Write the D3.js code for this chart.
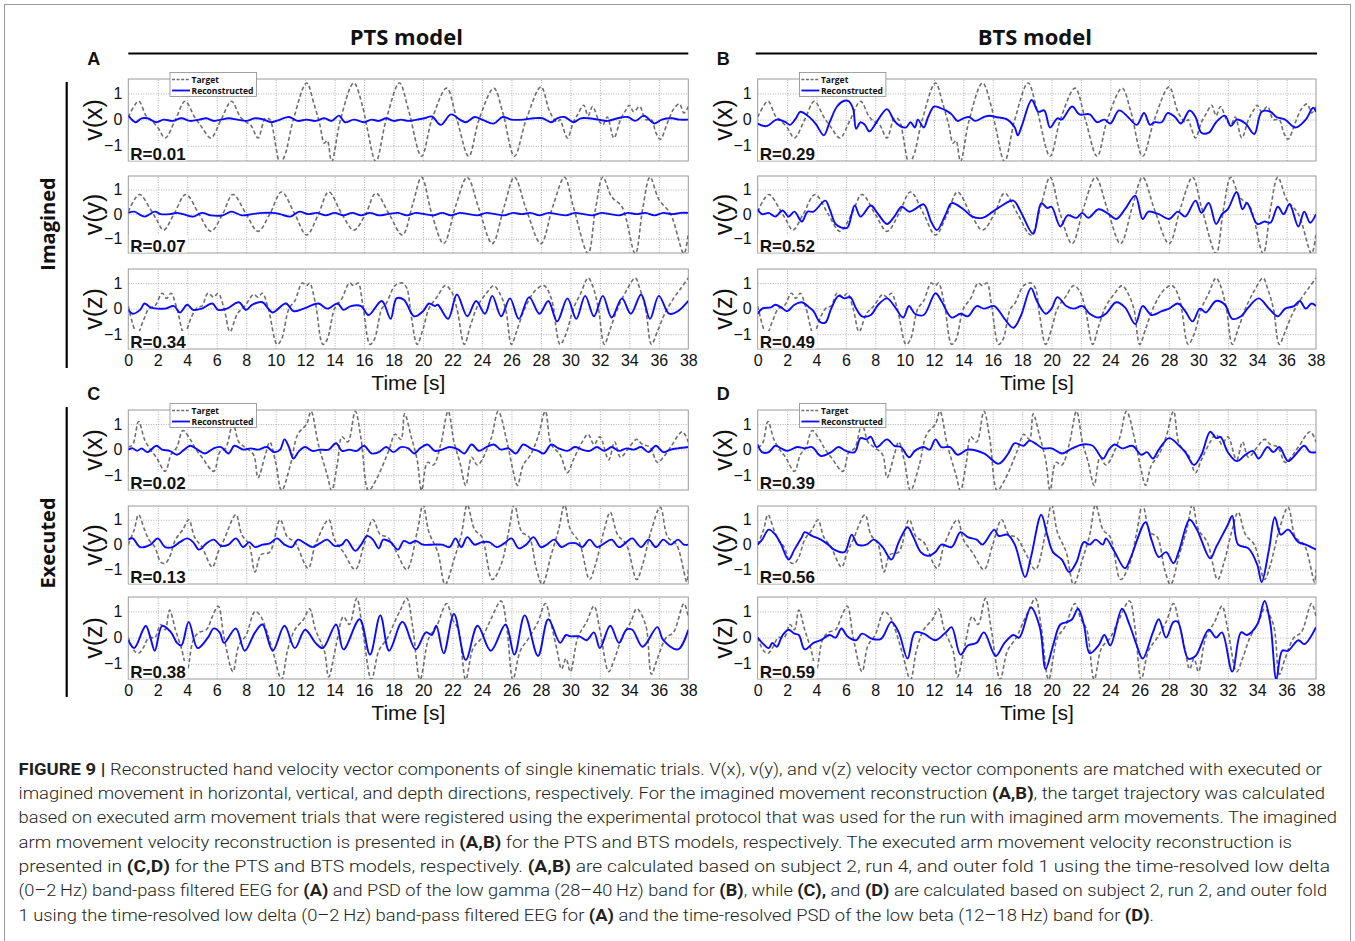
<!DOCTYPE html>
<html><head><meta charset="utf-8">
<script src="https://cdn.jsdelivr.net/npm/d3@7"></script>
<style>body{margin:0;background:#fff}svg{display:block}</style>
</head><body><svg id="c" width="1355" height="941"></svg>
<script>
// ---------- DATA ----------
const xTicks = [0,2,4,6,8,10,12,14,16,18,20,22,24,26,28,30,32,34,36,38];
const yTicks = [-1,0,1];
const axisLabels = ['v(x)','v(y)','v(z)'];
const modelTitles = ['PTS model','BTS model'];
const panelLetters = ['A','B','C','D'];
const groupLabels = ['Imagined','Executed'];
const legendLabels = ['Target','Reconstructed'];
const rA = ['R=0.01','R=0.07','R=0.34'];
const rB = ['R=0.29','R=0.52','R=0.49'];
const rC = ['R=0.02','R=0.13','R=0.38'];
const rD = ['R=0.39','R=0.56','R=0.59'];

// target trajectories [time s, velocity]
const tgtImX = [[0,0.1],[0.7,0.7],[1.2,0.15],[1.5,0],[2.0,-0.3],[2.5,-0.7],[3.2,0],[3.85,0.7],[4.5,0.1],[5.0,-0.3],[5.6,-0.7],[6.3,0],[7.0,0.7],[7.6,0.1],[8.0,-0.1],[8.3,-0.2],[8.8,-0.7],[9.3,0.05],[9.6,0],[10.3,-1.65],[10.6,-1.4],[11.2,0],[12.1,1.4],[12.6,0.6],[13.0,-0.2],[13.3,-0.9],[13.5,-0.8],[13.8,-1.6],[14.4,0],[15.3,1.4],[15.9,0.5],[16.2,-0.3],[16.8,-1.6],[17.5,0],[18.4,1.4],[19.0,0.4],[19.9,-1.4],[20.6,0],[21.6,1.2],[22.3,0],[23.1,-1.4],[23.8,0],[24.8,1.2],[25.4,0.3],[26.2,-1.4],[27.0,0],[28.0,1.25],[28.6,0.3],[29.1,-0.1],[29.3,0.0],[29.5,-0.3],[29.8,-0.7],[30.2,-0.1],[30.5,0.2],[30.9,0.55],[31.2,0.15],[31.5,0.5],[31.9,0],[32.2,-0.2],[32.5,0.1],[32.95,-0.7],[33.4,0],[33.8,0.4],[34.0,0.55],[34.3,0.3],[34.7,0.5],[35.1,0],[35.5,0],[35.8,-0.5],[36.1,-0.75],[36.6,-0.1],[37.0,0.4],[37.4,0.6],[37.7,0.25],[38,0.5]];
const tgtImY = [[0,0.1],[0.75,0.8],[1.5,0.2],[1.9,-0.2],[2.4,-0.65],[3.1,0],[3.9,0.8],[4.8,0],[5.6,-0.7],[6.4,0],[7.1,0.8],[8.0,0],[8.8,-0.7],[9.6,0],[10.4,0.9],[11.3,0],[12.1,-0.85],[12.9,0],[13.6,0.9],[14.5,0],[15.3,-0.65],[16.1,0],[16.8,0.85],[17.7,0],[18.6,-0.85],[19.3,0.4],[19.9,1.5],[20.6,0],[21.4,-1.2],[22.2,0.3],[23.0,1.5],[23.8,0.2],[24.7,-1.2],[25.5,0.3],[26.2,1.5],[27.0,0.2],[28.0,-1.2],[28.8,0.3],[29.6,1.5],[30.2,0.3],[31.2,-1.6],[31.7,0.2],[32.2,1.5],[32.8,0.7],[33.5,0.3],[34.4,-1.6],[34.9,0.2],[35.4,1.5],[36.0,0.6],[36.8,0],[37.7,-1.6],[38,-0.8]];
const tgtImZ = [[0,0.1],[0.6,-1.0],[1.0,-0.5],[1.4,0],[1.8,0.1],[2.3,0.6],[2.6,0.4],[2.9,0.6],[3.3,0],[3.8,-1.0],[4.3,-0.3],[4.7,0.05],[5.0,0.1],[5.4,0.6],[5.8,0.45],[6.1,0.6],[6.5,0],[6.9,-0.9],[7.4,-0.2],[7.9,0.1],[8.5,0.55],[8.8,0.45],[9.1,0.6],[9.5,0],[10.1,-1.4],[10.4,-1.2],[10.9,0],[11.3,0.3],[11.8,1.0],[12.1,0.9],[12.3,1.0],[12.7,0.2],[13.2,-1.4],[13.5,-1.2],[14.0,0],[14.5,0.4],[15.0,1.0],[15.3,0.9],[15.6,1.0],[15.9,0.2],[16.4,-1.4],[16.7,-1.2],[17.2,0],[17.5,0.2],[18.1,0.9],[18.6,1.0],[18.9,0.8],[19.2,-0.3],[19.6,-1.4],[20.0,-0.8],[20.4,0],[21.0,0.5],[21.5,0.9],[21.9,0.7],[22.3,0],[22.8,-1.4],[23.2,-0.7],[23.7,0.1],[24.3,0.6],[24.8,0.9],[25.2,0.6],[25.6,0],[26.0,-1.4],[26.4,-0.8],[26.9,0],[27.6,0.7],[28.2,0.9],[28.7,0.4],[29.3,-1.4],[29.7,-1.0],[30.2,0],[30.7,0.6],[31.2,1.2],[31.5,0.9],[31.9,0],[32.3,-1.4],[32.7,-0.8],[33.2,0],[33.8,0.7],[34.4,1.2],[34.7,0.8],[35.1,0],[35.5,-1.4],[35.9,-0.9],[36.4,-0.2],[37.0,0.4],[37.5,0.8],[38,1.2]];
const tgtExX = [[0,0.1],[0.3,0.2],[0.7,1.1],[1.1,0.4],[1.5,0.0],[1.9,-0.3],[2.5,-0.85],[2.9,-0.2],[3.3,0.1],[3.7,0.75],[4.2,0.4],[4.6,0.0],[5.0,-0.3],[5.8,-0.85],[6.2,-0.1],[6.6,0.05],[7.1,1.0],[7.5,0.3],[7.9,0.1],[8.5,-0.2],[8.8,-1.1],[9.3,-0.2],[9.6,0.3],[10.0,-0.5],[10.4,-1.6],[11.0,-0.6],[11.5,0.6],[12.1,1.0],[12.4,1.5],[12.9,0.2],[13.5,-1.0],[13.8,-1.6],[14.2,-0.5],[14.5,0.5],[14.9,0.3],[15.4,1.5],[15.8,0.4],[16.3,-1.6],[16.8,-1.2],[17.7,0.0],[18.1,0.6],[18.5,0.4],[18.75,1.4],[19.2,0.5],[19.6,-0.4],[19.9,-1.6],[20.3,-0.5],[20.7,-0.6],[21.2,0.2],[21.7,1.5],[22.1,0.3],[22.5,-0.5],[22.9,-1.4],[23.3,-0.3],[23.7,-0.6],[24.6,0.4],[25.1,1.5],[25.7,0.3],[26.1,-0.8],[26.4,-1.4],[26.8,-0.6],[27.3,-0.2],[27.8,0.5],[28.3,1.5],[28.7,0.2],[29.3,-0.2],[29.8,-0.9],[30.2,-0.4],[30.8,0.3],[31.2,0.6],[31.6,0.2],[32.0,0.5],[32.6,-0.4],[33.0,0.3],[33.4,-0.3],[34.0,0.1],[34.5,0.4],[34.9,0.2],[35.4,0.1],[35.9,-0.5],[36.3,-0.3],[36.8,0.1],[37.6,0.7],[38,0.3]];
const tgtExY = [[0,0.0],[0.4,0.6],[0.7,1.2],[1.1,0.6],[1.4,0.2],[1.8,-0.1],[2.2,-0.7],[2.5,-0.75],[2.8,-0.5],[3.2,0.2],[3.7,0.6],[4.1,1.0],[4.5,0.3],[5.0,-0.1],[5.7,-0.9],[6.1,-0.3],[6.5,0.2],[7.3,1.2],[7.7,0.4],[8.2,0.0],[8.6,-1.1],[9.0,-0.4],[9.6,-0.3],[10.3,1.0],[10.8,0.3],[11.3,0.1],[12.2,-0.95],[12.7,0.0],[13.6,1.0],[14.0,0.2],[14.6,-0.3],[15.4,-1.0],[16.0,0.0],[16.6,1.0],[17.1,0.4],[17.6,0.3],[18.2,-0.3],[18.9,-1.0],[19.6,0.5],[20.0,1.6],[20.4,0.5],[21.0,-0.3],[21.5,-1.6],[22.1,-0.6],[22.6,0.4],[23.0,1.6],[23.5,0.6],[24.0,0.3],[24.7,-1.4],[25.3,-0.8],[25.8,0.5],[26.2,1.6],[26.7,0.5],[27.2,0.3],[27.7,-1.0],[28.1,-1.6],[28.7,-0.4],[29.2,0.6],[29.6,1.6],[30.0,0.6],[30.6,0.1],[31.3,-1.4],[31.7,-0.8],[32.3,0.6],[32.7,1.3],[33.2,0.4],[33.8,0.0],[34.5,-1.4],[34.9,-0.8],[35.5,0.6],[36.1,1.5],[36.6,0.3],[37.2,0.0],[37.9,-1.5],[38,-1.0]];
const tgtExZ = [[0,0.0],[0.4,-0.5],[0.7,-0.6],[1.0,-0.4],[1.4,0.0],[1.8,0.0],[2.2,0.5],[2.5,0.3],[2.8,1.05],[3.2,0.3],[3.6,-0.4],[4.0,-1.2],[4.4,-0.1],[4.8,0.2],[5.3,0.3],[5.7,0.8],[6.1,1.2],[6.5,0.0],[7.1,-1.3],[7.5,-0.3],[8.0,0.1],[8.6,1.0],[9.0,0.8],[9.3,0.4],[9.8,-0.5],[10.4,-1.6],[10.8,-0.5],[11.3,0.3],[11.9,0.7],[12.3,1.1],[12.7,0.3],[13.3,-0.5],[13.6,-1.5],[14.1,-0.3],[14.6,0.8],[15.0,0.5],[15.5,1.5],[15.9,0.3],[16.5,-1.6],[17.0,-0.5],[17.6,0.0],[18.0,0.5],[18.5,1.1],[18.9,1.5],[19.3,0.4],[19.8,-1.6],[20.4,0.0],[20.9,0.4],[21.6,1.3],[22.0,0.7],[22.4,0.3],[22.9,-1.6],[23.4,-0.4],[24.0,0.0],[24.6,0.7],[25.3,1.4],[25.7,0.3],[26.1,-1.6],[26.6,-0.5],[27.2,0.0],[27.8,0.6],[28.3,1.3],[28.7,0.5],[29.1,-0.5],[29.4,-1.2],[29.7,-0.8],[30.0,-1.3],[30.5,0.0],[31.1,0.6],[31.6,1.2],[32.0,0.3],[32.6,-1.3],[33.0,-0.8],[33.5,0.0],[34.1,0.6],[34.5,1.1],[35.1,0.5],[35.5,-1.4],[35.9,-0.8],[36.5,0.0],[37.0,0.2],[37.7,1.3],[38,0.8]];

// reconstructed trajectories
const recAx = [[0,0.15],[0.5,-0.1],[0.9,0.05],[1.3,0.05],[1.9,-0.1],[2.4,0.0],[3.0,-0.05],[3.6,0.05],[4.2,-0.05],[4.8,0.0],[5.3,0.05],[5.8,-0.05],[6.3,0.0],[6.8,0.05],[7.4,0.0],[8.0,-0.05],[8.6,0.05],[9.2,0.0],[9.7,-0.1],[10.3,0.0],[10.9,0.1],[11.5,-0.05],[12.1,0.0],[12.7,-0.05],[13.3,0.05],[13.8,-0.05],[14.3,0.15],[14.7,-0.1],[15.3,0.0],[16.0,-0.1],[16.5,0.0],[17.0,-0.05],[17.5,0.05],[18.0,-0.05],[18.5,0.0],[19.0,-0.05],[19.6,0.0],[20.1,0.05],[20.6,0.12],[21.2,-0.2],[21.9,0.2],[22.5,0.0],[22.9,-0.1],[23.5,0.1],[24.0,0.0],[24.8,-0.15],[25.4,0.1],[26.0,0.0],[26.8,0.0],[27.5,0.05],[28.1,0.05],[28.7,-0.1],[29.1,0.05],[29.6,0.1],[30.2,-0.1],[30.7,0.05],[31.2,0.05],[31.9,0.0],[32.5,-0.05],[33.2,0.05],[33.9,0.1],[34.4,-0.05],[35.0,0.15],[35.7,-0.15],[36.2,0.0],[36.9,0.05],[37.4,0.0],[38,0.0]];
const recAy = [[0,0.05],[0.4,0.1],[1.1,-0.1],[1.8,0.1],[2.2,0.0],[2.8,0.0],[3.3,0.05],[3.7,0.0],[4.4,-0.1],[5.0,0.05],[5.6,-0.05],[6.4,-0.05],[7.0,0.1],[7.7,-0.05],[8.4,0.0],[9.1,0.05],[9.8,0.05],[10.3,0.0],[11.0,-0.1],[11.6,0.1],[12.2,0.0],[12.8,0.05],[13.4,-0.05],[14.0,0.05],[14.6,-0.05],[15.2,0.05],[15.8,-0.05],[16.4,0.05],[17.0,-0.05],[17.6,0.0],[18.3,0.05],[18.9,-0.05],[19.5,0.05],[20.1,0.0],[20.7,-0.05],[21.3,0.05],[21.9,-0.05],[22.5,0.05],[23.1,0.0],[23.7,-0.05],[24.3,0.05],[24.9,0.0],[25.5,-0.05],[26.1,0.05],[26.7,0.0],[27.3,0.05],[27.9,-0.05],[28.5,0.05],[29.1,0.0],[29.7,-0.05],[30.3,0.05],[30.9,0.0],[31.5,-0.05],[32.1,0.05],[32.7,0.0],[33.3,-0.05],[33.9,0.05],[34.5,0.0],[35.1,0.05],[35.7,-0.05],[36.3,0.05],[36.9,0.0],[37.5,0.05],[38,0.05]];
const recAz = [[0,-0.05],[0.3,-0.2],[0.8,-0.05],[1.1,0.2],[1.5,0.05],[2.0,0.0],[2.5,0.0],[3.1,0.1],[3.5,-0.15],[4.0,0.15],[4.4,-0.05],[5.0,0.0],[5.7,0.2],[6.1,-0.05],[6.7,0.0],[7.5,0.25],[8.0,-0.05],[8.4,0.15],[9.1,0.25],[9.5,0.0],[9.8,-0.15],[10.7,0.2],[11.2,-0.1],[11.9,0.0],[12.9,0.2],[13.5,0.0],[14.2,0.2],[14.6,-0.05],[15.1,0.1],[15.8,0.1],[16.3,-0.25],[17.2,0.3],[17.8,-0.4],[18.2,0.4],[18.7,0.35],[19.4,-0.3],[20.0,-0.1],[20.4,0.2],[20.8,0.1],[21.0,0.15],[21.7,-0.4],[22.3,0.55],[23.0,-0.3],[23.6,0.3],[24.2,-0.2],[24.7,0.5],[25.3,-0.3],[25.9,0.4],[26.5,-0.4],[27.2,0.45],[27.9,-0.2],[28.5,0.3],[29.1,-0.5],[29.8,0.4],[30.4,-0.4],[31.0,0.5],[31.6,-0.3],[32.2,0.5],[32.8,-0.35],[33.5,0.4],[34.1,-0.2],[34.8,0.55],[35.4,-0.4],[36.0,0.5],[36.7,-0.2],[37.3,-0.1],[38,0.3]];
const recBx = [[0,-0.15],[0.6,-0.25],[1.3,0],[1.9,-0.1],[2.2,-0.2],[2.6,0.05],[2.9,0.3],[3.4,0.15],[3.7,0],[4.0,-0.2],[4.5,-0.6],[4.9,-0.1],[5.4,0.5],[5.9,0.72],[6.2,0.7],[6.5,0.4],[6.7,-0.35],[7.0,-0.1],[7.3,-0.2],[7.6,-0.45],[8.2,0],[8.8,0.4],[9.3,-0.05],[9.7,-0.25],[10.1,-0.3],[10.4,-0.1],[10.7,-0.3],[10.9,0],[11.3,-0.3],[11.6,0.1],[12.0,0.5],[12.4,0.45],[12.8,0.35],[13.2,0.2],[13.6,-0.05],[14.0,0.05],[14.4,0.1],[14.8,-0.05],[15.4,0.1],[15.8,0.15],[16.2,0.1],[17.0,0],[17.5,-0.3],[17.7,-0.6],[18.0,-0.2],[18.65,0.75],[19.1,0.3],[19.5,0.35],[19.9,-0.3],[20.4,0.05],[20.7,0],[21.4,0.5],[21.9,0.2],[22.6,0.2],[23.1,-0.1],[23.6,0],[24.0,-0.15],[24.6,0.35],[25.2,0.1],[25.8,-0.2],[26.3,0.25],[26.7,-0.2],[27.0,-0.1],[27.5,-0.1],[27.9,0.25],[28.4,0.1],[28.8,-0.15],[29.4,0.35],[29.8,0.1],[30.2,-0.5],[30.7,-0.5],[31.2,-0.1],[31.8,0.15],[32.2,-0.25],[32.6,0],[33.2,-0.15],[33.8,-0.55],[34.3,0.3],[34.9,0.3],[35.3,0.1],[35.9,0],[36.6,-0.3],[37.3,0],[37.8,0.45],[38,0.3]];
const recBy = [[0,0.2],[0.3,0.0],[0.75,0.05],[1.2,-0.1],[1.7,0.15],[2.1,-0.1],[2.5,0.1],[3.0,-0.3],[3.4,0.1],[3.8,0.1],[4.6,0.55],[4.9,0.2],[5.3,-0.4],[5.7,-0.55],[6.1,-0.55],[6.6,0.35],[7.0,-0.1],[7.7,0.35],[8.2,0.0],[8.8,-0.4],[9.3,-0.1],[9.8,0.3],[10.3,0.1],[10.7,0.2],[11.3,0.4],[11.8,-0.3],[12.2,-0.65],[12.8,0.0],[13.2,0.45],[14.0,0.2],[14.6,-0.1],[15.3,-0.15],[16.0,0.1],[16.5,0.3],[17.4,0.55],[17.9,0.1],[18.75,-0.8],[19.3,0.45],[19.7,0.25],[20.0,0.3],[20.6,-0.5],[21.1,-0.05],[21.7,-0.15],[22.1,0.05],[22.5,-0.15],[23.2,0.2],[23.9,0.0],[24.4,-0.2],[25.0,0.2],[25.7,0.75],[26.2,-0.2],[26.6,0.1],[27.3,0.0],[28.0,-0.2],[28.6,0.1],[29.1,-0.1],[29.8,0.55],[30.2,0.05],[30.7,0.45],[31.2,-0.4],[31.6,0.0],[32.0,0.2],[32.6,0.9],[33.0,0.2],[33.3,0.45],[34.0,-0.4],[34.5,-0.3],[34.9,-0.35],[35.4,0.3],[35.8,0.0],[36.2,0.4],[36.8,-0.5],[37.2,0.1],[37.6,-0.35],[38,0.0]];
const recBz = [[0,-0.2],[0.3,0.0],[0.9,0.05],[1.2,0.15],[1.6,0.05],[2.0,-0.1],[2.5,0.15],[3.0,0.25],[3.4,0.1],[3.8,-0.1],[4.2,-0.5],[4.6,-0.55],[5.0,0.0],[5.5,0.5],[5.9,0.4],[6.3,0.45],[6.7,0.0],[7.1,-0.3],[7.7,-0.25],[8.2,0.15],[8.8,0.4],[9.3,0.1],[9.9,-0.35],[10.3,0.1],[10.7,-0.2],[11.3,-0.25],[12.1,0.6],[12.5,0.3],[13.2,-0.35],[13.8,-0.2],[14.3,-0.3],[14.9,0.1],[15.4,0.0],[16.1,0.1],[16.8,-0.4],[17.4,-0.75],[17.9,-0.3],[18.6,0.8],[19.0,0.3],[19.6,-0.2],[20.0,0.0],[20.4,0.45],[21.0,0.1],[21.5,0.0],[22.1,0.1],[22.6,-0.2],[23.2,-0.35],[23.7,-0.2],[24.4,0.25],[25.0,0.05],[25.7,-0.6],[26.2,0.1],[26.8,-0.25],[27.5,-0.1],[28.0,0.0],[28.6,0.2],[29.1,-0.1],[29.6,-0.5],[30.1,0.0],[30.5,-0.15],[31.2,0.3],[31.8,0.15],[32.3,-0.4],[32.9,-0.3],[33.4,0.05],[34.1,0.4],[34.8,0.0],[35.4,-0.3],[35.9,0.0],[36.5,0.1],[36.9,0.3],[37.3,0.0],[37.7,0.2],[38,0.1]];
const recCx = [[0,0.0],[0.3,0.05],[0.6,-0.05],[0.9,0.05],[1.3,-0.1],[1.9,0.15],[2.3,0.0],[2.8,-0.05],[3.3,-0.2],[3.8,0.0],[4.2,0.15],[4.7,0.0],[5.2,-0.15],[5.8,0.05],[6.3,0.1],[6.8,-0.15],[7.2,0.15],[7.8,0.0],[8.3,0.05],[8.8,0.0],[9.4,0.1],[9.9,-0.1],[10.3,0.0],[10.6,0.4],[10.9,0.1],[11.2,-0.35],[11.6,-0.05],[12.0,0.1],[12.5,-0.05],[13.0,0.0],[13.6,0.0],[14.1,0.25],[14.5,-0.05],[15.0,0.0],[15.5,-0.05],[16.0,0.15],[16.5,-0.15],[17.0,-0.1],[17.5,0.1],[18.0,-0.1],[18.5,0.1],[19.0,0.05],[19.4,-0.15],[19.8,0.05],[20.3,0.2],[20.8,-0.05],[21.3,0.0],[21.8,0.1],[22.4,0.0],[22.8,-0.15],[23.3,0.2],[23.8,-0.05],[24.3,0.1],[24.8,0.2],[25.3,0.0],[25.8,0.05],[26.3,-0.15],[26.8,0.2],[27.3,0.05],[27.8,-0.05],[28.2,-0.15],[28.7,0.2],[29.2,0.05],[29.8,-0.05],[30.3,0.1],[30.8,0.0],[31.3,-0.05],[31.8,0.1],[32.3,-0.05],[32.8,0.1],[33.3,-0.05],[33.8,0.05],[34.3,0.0],[34.8,0.1],[35.3,-0.1],[35.8,0.15],[36.3,-0.1],[36.8,0.0],[37.3,0.05],[38,0.1]];
const recCy = [[0,0.2],[0.3,0.25],[0.8,-0.1],[1.5,0.0],[2.0,0.25],[2.5,-0.1],[3.0,-0.1],[3.5,0.1],[4.0,0.25],[4.4,0.1],[4.8,-0.2],[5.3,0.05],[5.8,0.2],[6.3,-0.05],[6.8,0.0],[7.3,0.25],[7.8,-0.1],[8.2,0.1],[8.6,-0.1],[9.1,0.0],[9.6,0.05],[10.1,0.25],[10.6,0.0],[11.1,-0.1],[11.5,0.2],[12.0,0.05],[12.5,-0.1],[13.0,0.05],[13.5,0.2],[14.0,-0.05],[14.5,0.0],[14.8,0.2],[15.4,-0.25],[15.8,0.0],[16.2,0.35],[16.6,0.2],[17.0,-0.15],[17.3,0.2],[17.8,0.1],[18.3,-0.2],[18.7,0.15],[19.1,0.05],[19.5,0.15],[20.0,0.0],[20.7,0.0],[21.3,0.0],[21.8,-0.1],[22.2,0.25],[22.6,-0.1],[23.0,0.3],[23.5,0.0],[24.0,0.1],[24.5,0.1],[25.0,-0.1],[25.5,0.05],[26.0,0.25],[26.5,-0.15],[27.0,0.0],[27.5,0.3],[28.0,-0.1],[28.4,0.0],[28.9,0.2],[29.4,-0.1],[29.9,0.05],[30.4,0.05],[30.8,-0.1],[31.3,0.2],[31.8,-0.1],[32.3,0.05],[32.8,0.2],[33.3,-0.1],[33.8,0.1],[34.2,0.25],[34.8,-0.1],[35.3,0.2],[35.8,-0.1],[36.3,0.2],[36.8,0.0],[37.3,0.2],[37.7,0.0],[38,0.0]];
const recCz = [[0,-0.1],[0.4,-0.4],[1.0,0.3],[1.2,0.45],[1.5,0.0],[1.8,-0.5],[2.3,0.45],[2.9,0.2],[3.3,-0.2],[3.6,-0.3],[4.1,0.6],[4.7,-0.4],[5.4,0.0],[5.8,0.35],[6.2,0.2],[6.5,-0.2],[7.3,0.35],[7.9,-0.5],[8.6,0.2],[9.1,0.5],[9.8,-0.5],[10.6,0.45],[11.3,-0.4],[12.0,0.3],[12.7,-0.2],[13.2,-0.4],[14.1,0.5],[14.6,-0.45],[15.7,0.7],[16.4,-0.65],[17.1,0.85],[17.7,-0.5],[18.6,0.6],[19.5,-0.45],[20.2,0.2],[20.6,0.1],[20.9,0.45],[21.4,-0.6],[22.1,0.9],[22.9,-0.85],[23.7,0.45],[24.6,-0.5],[25.6,0.5],[26.2,-0.65],[26.9,0.85],[27.8,-0.7],[28.5,0.7],[29.3,-0.2],[29.7,0.1],[30.0,0.05],[30.6,0.05],[31.1,-0.1],[31.6,0.2],[32.0,-0.4],[32.7,0.45],[33.3,-0.2],[33.8,0.3],[34.2,0.3],[34.9,-0.35],[35.9,0.4],[36.3,-0.1],[37.3,-0.45],[38,0.3]];
const recDx = [[0,0.2],[0.3,-0.1],[0.75,-0.1],[1.2,0.15],[1.6,0.05],[2.0,-0.05],[2.7,0.1],[3.2,0.05],[3.7,0.1],[4.3,-0.25],[5.0,-0.1],[5.5,0.1],[6.0,-0.05],[6.6,-0.1],[7.0,0.45],[7.4,0.4],[7.7,0.5],[8.1,0.1],[8.8,0.4],[9.3,0.15],[9.75,0.1],[10.3,-0.3],[10.7,-0.05],[11.3,0.1],[11.7,0.0],[12.1,0.4],[12.5,0.1],[13.1,0.1],[13.6,-0.2],[14.3,0.0],[15.4,-0.15],[16.4,-0.55],[17.0,-0.2],[17.5,0.25],[18.1,0.15],[18.5,0.35],[19.0,0.2],[19.4,0.05],[20.0,0.05],[20.7,-0.15],[21.4,0.05],[22.1,0.2],[22.8,0.15],[23.5,-0.35],[23.9,0.0],[24.3,0.2],[24.8,0.05],[25.5,0.15],[26.1,-0.2],[26.5,-0.1],[26.9,-0.35],[27.3,0.0],[28.0,0.45],[28.6,0.2],[29.1,-0.1],[29.7,-0.6],[30.2,-0.2],[30.8,0.7],[31.2,0.45],[31.5,0.5],[32.0,-0.1],[32.6,-0.45],[33.2,-0.2],[33.7,-0.05],[34.1,-0.35],[34.7,0.1],[35.1,-0.1],[35.5,0.1],[36.1,-0.45],[36.6,-0.2],[37.2,0.15],[37.6,-0.1],[38,-0.1]];
const recDy = [[0,0.0],[0.3,0.2],[0.75,0.6],[1.2,0.4],[1.6,0.0],[2.1,-0.6],[2.5,-0.2],[3.0,0.3],[3.2,0.5],[3.7,0.35],[4.3,0.2],[4.8,0.0],[5.2,-0.2],[5.9,-0.3],[6.4,0.4],[6.8,0.0],[7.4,0.0],[7.9,0.2],[8.5,-0.1],[9.1,-0.6],[9.6,0.1],[10.2,0.7],[10.6,0.3],[11.1,-0.3],[11.6,-0.45],[12.1,-0.3],[12.5,0.0],[13.2,-0.1],[13.8,0.5],[14.3,0.3],[14.9,0.2],[15.3,0.0],[16.1,0.6],[16.4,0.35],[17.0,0.4],[17.5,0.0],[18.2,-1.3],[18.6,-0.5],[19.3,1.2],[19.7,0.4],[20.1,-0.3],[20.7,-0.6],[21.2,-1.1],[21.7,-0.7],[22.2,0.1],[22.6,0.0],[23.0,0.2],[23.5,0.0],[23.7,0.25],[24.3,-0.3],[25.0,-0.95],[25.4,-0.5],[26.4,0.9],[26.8,0.2],[27.3,-0.5],[27.8,-0.3],[28.3,-0.75],[28.7,-0.2],[29.4,1.0],[29.9,0.6],[30.8,-0.55],[31.2,-0.1],[32.0,0.8],[32.3,1.15],[32.7,0.0],[33.4,-0.15],[34.0,-0.8],[34.3,-1.5],[34.8,-0.2],[35.2,1.1],[35.6,0.4],[36.1,0.6],[36.8,0.1],[37.3,0.0],[38,-0.2]];
const recDz = [[0,0.0],[0.3,-0.2],[0.75,-0.4],[1.0,-0.2],[1.3,-0.35],[1.7,0.1],[2.1,0.3],[2.5,0.15],[2.8,0.1],[3.2,-0.45],[3.8,-0.2],[4.3,-0.1],[4.9,0.1],[5.3,0.0],[5.7,0.35],[6.1,0.05],[6.7,-0.1],[7.1,0.15],[7.8,-0.05],[8.4,-0.05],[9.1,0.6],[9.6,0.2],[10.2,-0.8],[10.7,0.2],[11.3,0.15],[12.1,-0.1],[12.8,0.2],[13.2,0.4],[13.8,-0.65],[14.3,-0.3],[14.9,-0.2],[15.4,0.2],[16.2,-0.7],[16.8,-0.2],[17.4,0.1],[17.8,0.0],[18.6,1.15],[19.2,0.4],[19.6,-1.2],[20.1,-0.3],[20.6,0.5],[21.1,0.6],[21.4,0.7],[21.8,1.1],[22.2,0.5],[22.6,-0.6],[23.2,-0.3],[23.6,0.1],[24.0,-0.3],[24.8,1.1],[25.3,0.5],[25.8,-0.3],[26.2,-0.8],[26.9,0.2],[27.3,0.7],[27.8,0.0],[28.3,0.6],[28.6,0.6],[29.3,-0.8],[29.8,-0.7],[30.7,0.3],[31.2,0.0],[31.6,0.2],[32.3,-1.3],[32.9,0.2],[33.3,0.1],[34.0,0.5],[34.5,1.4],[34.9,0.5],[35.3,-1.6],[35.7,-0.5],[36.1,-0.5],[36.8,-0.1],[37.2,-0.25],[38,0.4]];

// caption: [text, bold]
const captionLines = [
  [['FIGURE 9 | ',1],['Reconstructed hand velocity vector components of single kinematic trials. V(x), v(y), and v(z) velocity vector components are matched with executed or',0]],
  [['imagined movement in horizontal, vertical, and depth directions, respectively. For the imagined movement reconstruction ',0],['(A,B)',1],[', the target trajectory was calculated',0]],
  [['based on executed arm movement trials that were registered using the experimental protocol that was used for the run with imagined arm movements. The imagined',0]],
  [['arm movement velocity reconstruction is presented in ',0],['(A,B)',1],[' for the PTS and BTS models, respectively. The executed arm movement velocity reconstruction is',0]],
  [['presented in ',0],['(C,D)',1],[' for the PTS and BTS models, respectively. ',0],['(A,B)',1],[' are calculated based on subject 2, run 4, and outer fold 1 using the time-resolved low delta',0]],
  [['(0\u20132\u2009Hz) band-pass filtered EEG for ',0],['(A)',1],[' and PSD of the low gamma (28\u201340\u2009Hz) band for ',0],['(B)',1],[', while ',0],['(C),',1],[' and ',0],['(D)',1],[' are calculated based on subject 2, run 2, and outer fold',0]],
  [['1 using the time-resolved low delta (0\u20132\u2009Hz) band-pass filtered EEG for ',0],['(A)',1],[' and the time-resolved PSD of the low beta (12\u201318\u2009Hz) band for ',0],['(D)',1],['.',0]]
];
const captionEnds = [1322,1325,1337,1292,1330,1327,1154];

// ---------- LAYOUT ----------
const W = 1355, H = 941;
const colX = [[128.3,688.3],[757.7,1316]];
const groupRows = [[[79,161],[176,253],[269,349]],[[410,490],[506,584],[597,679]]];
const yDomain = [-1.58,1.55];
const FONT = "'Liberation Sans', Arial, sans-serif";
const FONT2 = "'Open Sans', 'Liberation Sans', sans-serif";

const svg = d3.select('#c');
svg.append('rect').attr('width',W).attr('height',H).attr('fill','#fff');
// outer frame
svg.append('rect').attr('x',4.5).attr('y',4.5).attr('width',W-9).attr('height',H+10)
  .attr('fill','none').attr('stroke','#9a9a9a').attr('stroke-width',1);

const panels = [
  {letter:panelLetters[0], col:0, grp:0, tg:[tgtImX,tgtImY,tgtImZ], rc:[recAx,recAy,recAz], r:rA},
  {letter:panelLetters[1], col:1, grp:0, tg:[tgtImX,tgtImY,tgtImZ], rc:[recBx,recBy,recBz], r:rB},
  {letter:panelLetters[2], col:0, grp:1, tg:[tgtExX,tgtExY,tgtExZ], rc:[recCx,recCy,recCz], r:rC},
  {letter:panelLetters[3], col:1, grp:1, tg:[tgtExX,tgtExY,tgtExZ], rc:[recDx,recDy,recDz], r:rD}
];

const defs = svg.append('defs');
let clipId = 0;

// titles
modelTitles.forEach((t,i)=>{
  const [x0,x1] = colX[i];
  svg.append('text').attr('x',(x0+x1)/2 - 2).attr('y',45).attr('text-anchor','middle')
    .attr('font-family',FONT2).attr('font-weight',700).attr('font-size',22).attr('fill','#111').text(t);
  svg.append('line').attr('x1',x0 - (i?2:0)).attr('x2',x1+ (i?1:0)).attr('y1',53.5).attr('y2',53.5)
    .attr('stroke','#000').attr('stroke-width',2.2);
});

// group labels + vertical bars
groupLabels.forEach((g,i)=>{
  const cy = i===0 ? 224 : 543;
  svg.append('text').attr('transform',`translate(55,${cy}) rotate(-90)`).attr('text-anchor','middle')
    .attr('font-family',FONT2).attr('font-weight',700).attr('font-size',20).attr('fill','#111').text(g);
  svg.append('line').attr('x1',66.7).attr('x2',66.7)
    .attr('y1', i===0 ? 82 : 407).attr('y2', i===0 ? 368 : 697)
    .attr('stroke','#000').attr('stroke-width',2.2);
});

const lineGen = (x,y)=> d3.line().x(d=>x(d[0])).y(d=>y(d[1])).curve(d3.curveCatmullRom.alpha(0.5));

panels.forEach(p=>{
  const [x0,x1] = colX[p.col];
  const rows = groupRows[p.grp];
  const x = d3.scaleLinear().domain([0,38]).range([x0,x1]);
  // panel letter
  svg.append('text').attr('x',x0-41).attr('y', p.grp===0 ? 65 : 400)
    .attr('font-family',FONT).attr('font-weight',700).attr('font-size',18).attr('fill','#111').text(p.letter);

  rows.forEach((rw,ri)=>{
    const [top,bot] = rw;
    const y = d3.scaleLinear().domain(yDomain).range([bot,top]);
    const g = svg.append('g');
    const h = bot-top;
    // grid
    const gx = g.append('g').attr('transform',`translate(0,${bot})`)
      .call(d3.axisBottom(x).tickValues(xTicks.slice(1,-1)).tickSize(-h).tickFormat(''));
    gx.select('.domain').remove();
    gx.selectAll('line').attr('stroke','#9c9c9c').attr('stroke-width',0.8).attr('stroke-dasharray','1,1.5');
    const gy = g.append('g').attr('transform',`translate(${x0},0)`)
      .call(d3.axisLeft(y).tickValues(yTicks).tickSize(-(x1-x0)).tickPadding(6).tickFormat(d3.format('d')));
    gy.select('.domain').remove();
    gy.selectAll('line').attr('stroke','#9c9c9c').attr('stroke-width',0.8).attr('stroke-dasharray','1,1.5');
    gy.selectAll('text').attr('font-family',FONT).attr('font-size',16).attr('fill','#111');
    // border
    g.append('rect').attr('x',x0).attr('y',top).attr('width',x1-x0).attr('height',h)
      .attr('fill','none').attr('stroke','#9a9a9a').attr('stroke-width',1);
    // clip
    const cid = 'clip'+(clipId++);
    defs.append('clipPath').attr('id',cid).append('rect').attr('x',x0).attr('y',top).attr('width',x1-x0).attr('height',h);
    const lg = g.append('g').attr('clip-path',`url(#${cid})`);
    lg.append('path').datum(p.tg[ri]).attr('d',lineGen(x,y)).attr('fill','none')
      .attr('stroke','#6e6e6e').attr('stroke-width',1.6).attr('stroke-dasharray','4,2.5');
    lg.append('path').datum(p.rc[ri]).attr('d',lineGen(x,y)).attr('fill','none')
      .attr('stroke','#0a0aff').attr('stroke-width',1.9);
    // y label
    g.append('text').attr('transform',`translate(${x0-26},${(top+bot)/2}) rotate(-90)`)
      .attr('text-anchor','middle').attr('font-family',FONT).attr('font-size',25).attr('fill','#111')
      .text(axisLabels[ri]);
    // R label
    g.append('rect').attr('x',x0+0.5).attr('y',bot-18).attr('width',59).attr('height',17.5).attr('fill','#fff');
    g.append('text').attr('x',x0+2).attr('y',bot-1.5).attr('font-family',FONT).attr('font-weight',700)
      .attr('font-size',17).attr('fill','#111').text(p.r[ri]);
    // legend
    if(ri===0){
      const lx = x0+41.7, ly = top-6.5;
      const lgd = g.append('g').attr('transform',`translate(${lx},${ly})`);
      lgd.append('rect').attr('width',86.5).attr('height',24).attr('fill','#fff').attr('stroke','#8a8a8a').attr('stroke-width',0.8);
      lgd.append('line').attr('x1',2).attr('x2',20).attr('y1',7).attr('y2',7)
        .attr('stroke','#6e6e6e').attr('stroke-width',1.4).attr('stroke-dasharray','3,1.6');
      lgd.append('line').attr('x1',2).attr('x2',20).attr('y1',18).attr('y2',18)
        .attr('stroke','#0a0aff').attr('stroke-width',1.8);
      lgd.append('text').attr('x',21.5).attr('y',10).attr('font-family',FONT2).attr('font-weight',700)
        .attr('font-size',8.5).attr('fill','#111').text(legendLabels[0]);
      lgd.append('text').attr('x',21.5).attr('y',21).attr('font-family',FONT2).attr('font-weight',700)
        .attr('font-size',8.5).attr('fill','#111').attr('textLength',62).attr('lengthAdjust','spacingAndGlyphs').text(legendLabels[1]);
    }
    // x tick labels on last row
    if(ri===2){
      const ax = g.append('g').attr('transform',`translate(0,${bot})`)
        .call(d3.axisBottom(x).tickValues(xTicks).tickSize(0).tickPadding(6));
      ax.select('.domain').remove();
      ax.selectAll('text').attr('font-family',FONT).attr('font-size',16).attr('fill','#111');
      g.append('text').attr('x',(x0+x1)/2).attr('y',bot+41).attr('text-anchor','middle')
        .attr('font-family',FONT).attr('font-size',21).attr('fill','#111').text('Time [s]');
    }
  });
});

// caption
captionLines.forEach((ln,i)=>{
  const t = svg.append('text').attr('x',18.5).attr('y',774.5+24.35*i)
    .attr('font-family',"Roboto, 'Liberation Sans', sans-serif").attr('font-size',16.5).attr('fill','#231f20')
    .attr('textLength',captionEnds[i]-18.5).attr('lengthAdjust','spacingAndGlyphs');
  ln.forEach(s=>{
    t.append('tspan').attr('font-weight', s[1]?700:300).text(s[0]);
  });
});
</script></body></html>
